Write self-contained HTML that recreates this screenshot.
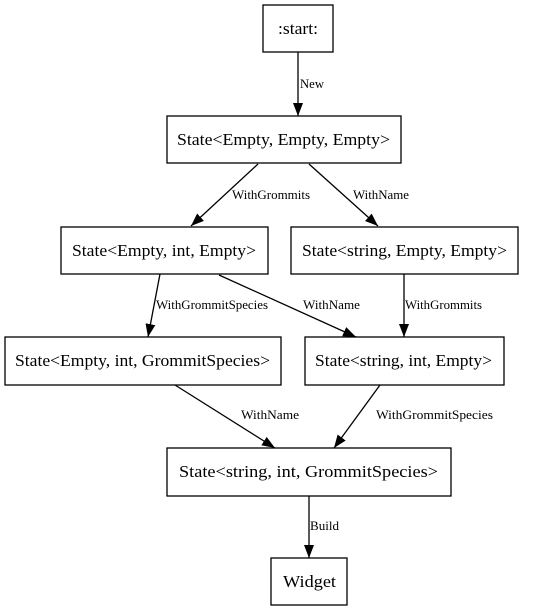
<!DOCTYPE html>
<html><head><meta charset="utf-8"><style>
html,body{margin:0;padding:0;background:#fff;}
svg{display:block;}
text{font-family:"Liberation Serif",serif;fill:#000;}
.n{font-size:17px;}
.l{font-size:12.5px;}
rect{fill:#fff;stroke:#000;stroke-width:1.3;}
line{stroke:#000;stroke-width:1.3;}
</style></head><body>
<svg width="550" height="612" viewBox="0 0 550 612" xmlns="http://www.w3.org/2000/svg">
<defs><marker id="a" markerWidth="14" markerHeight="12" refX="13" refY="6" orient="auto" markerUnits="userSpaceOnUse"><path d="M0,1 L13,6 L0,11 z" fill="#000"/></marker></defs>
<rect x="263" y="5" width="70" height="47"/><text class="n" x="278" y="34" textLength="40" lengthAdjust="spacingAndGlyphs">:start:</text>
<rect x="167" y="116" width="234" height="47"/><text class="n" x="177" y="145" textLength="213" lengthAdjust="spacingAndGlyphs">State&lt;Empty, Empty, Empty&gt;</text>
<rect x="61" y="227" width="207" height="47"/><text class="n" x="72" y="256" textLength="184" lengthAdjust="spacingAndGlyphs">State&lt;Empty, int, Empty&gt;</text>
<rect x="291" y="227" width="227" height="47"/><text class="n" x="302" y="256" textLength="205" lengthAdjust="spacingAndGlyphs">State&lt;string, Empty, Empty&gt;</text>
<rect x="5" y="337" width="276" height="48"/><text class="n" x="15" y="366" textLength="255" lengthAdjust="spacingAndGlyphs">State&lt;Empty, int, GrommitSpecies&gt;</text>
<rect x="305" y="337" width="199" height="48"/><text class="n" x="315" y="366" textLength="177" lengthAdjust="spacingAndGlyphs">State&lt;string, int, Empty&gt;</text>
<rect x="167" y="448" width="284" height="48"/><text class="n" x="179" y="477" textLength="259" lengthAdjust="spacingAndGlyphs">State&lt;string, int, GrommitSpecies&gt;</text>
<rect x="271" y="558" width="76" height="47"/><text class="n" x="283" y="587" textLength="53" lengthAdjust="spacingAndGlyphs">Widget</text>

<line x1="298" y1="52" x2="298" y2="116" marker-end="url(#a)"/><text class="l" x="300" y="88" textLength="24" lengthAdjust="spacingAndGlyphs">New</text>
<line x1="258" y1="164" x2="191" y2="226" marker-end="url(#a)"/><text class="l" x="232" y="199" textLength="78" lengthAdjust="spacingAndGlyphs">WithGrommits</text>
<line x1="309" y1="164" x2="378" y2="226" marker-end="url(#a)"/><text class="l" x="353" y="199" textLength="56" lengthAdjust="spacingAndGlyphs">WithName</text>
<line x1="160" y1="274" x2="148" y2="337" marker-end="url(#a)"/><text class="l" x="156" y="309" textLength="112" lengthAdjust="spacingAndGlyphs">WithGrommitSpecies</text>
<line x1="219" y1="275" x2="356" y2="337" marker-end="url(#a)"/><text class="l" x="303" y="309" textLength="57" lengthAdjust="spacingAndGlyphs">WithName</text>
<line x1="404" y1="274" x2="404" y2="337" marker-end="url(#a)"/><text class="l" x="405" y="309" textLength="77" lengthAdjust="spacingAndGlyphs">WithGrommits</text>
<line x1="175" y1="385" x2="275" y2="448" marker-end="url(#a)"/><text class="l" x="241" y="419" textLength="58" lengthAdjust="spacingAndGlyphs">WithName</text>
<line x1="380" y1="385" x2="334" y2="448" marker-end="url(#a)"/><text class="l" x="376" y="419" textLength="117" lengthAdjust="spacingAndGlyphs">WithGrommitSpecies</text>
<line x1="309" y1="496" x2="309" y2="558" marker-end="url(#a)"/><text class="l" x="310" y="530" textLength="29" lengthAdjust="spacingAndGlyphs">Build</text>
</svg>
</body></html>
